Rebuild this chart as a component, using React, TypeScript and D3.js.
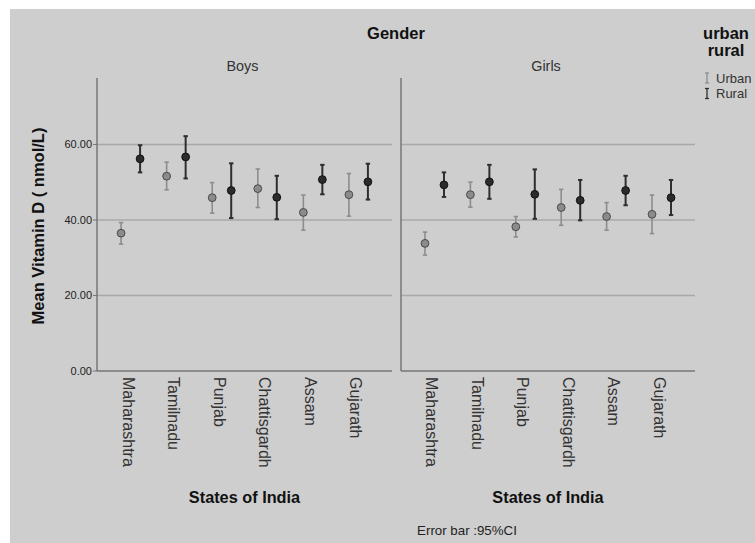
import React from "react";
import * as d3 from "d3";

// categories
const states = ["Maharashtra", "Tamilnadu", "Punjab", "Chattisgardh", "Assam", "Gujarath"];
const genders = ["Boys", "Girls"];
const yTicks = [0, 20, 40, 60];

// boys
const boysUrbanMean = [36.5, 51.6, 45.9, 48.3, 42.0, 46.7];
const boysUrbanLow = [33.6, 48.0, 41.8, 43.3, 37.3, 41.0];
const boysUrbanHigh = [39.3, 55.3, 49.9, 53.5, 46.6, 52.3];
const boysRuralMean = [56.2, 56.7, 47.8, 46.0, 50.7, 50.1];
const boysRuralLow = [52.6, 51.0, 40.5, 40.2, 46.8, 45.4];
const boysRuralHigh = [59.8, 62.2, 55.0, 51.7, 54.6, 54.9];

// girls
const girlsUrbanMean = [33.8, 46.7, 38.2, 43.3, 40.9, 41.5];
const girlsUrbanLow = [30.7, 43.4, 35.5, 38.6, 37.3, 36.4];
const girlsUrbanHigh = [36.8, 50.0, 40.9, 48.1, 44.6, 46.6];
const girlsRuralMean = [49.3, 50.1, 46.8, 45.2, 47.8, 45.9];
const girlsRuralLow = [46.1, 45.6, 40.3, 39.9, 43.9, 41.3];
const girlsRuralHigh = [52.6, 54.6, 53.4, 50.6, 51.7, 50.6];

const W = 755;
const H = 543;
const font = "'Liberation Sans', Arial, sans-serif";

const panels = [
  { x0: 97, x1: 392, urban: [boysUrbanMean, boysUrbanLow, boysUrbanHigh], rural: [boysRuralMean, boysRuralLow, boysRuralHigh] },
  { x0: 401, x1: 695, urban: [girlsUrbanMean, girlsUrbanLow, girlsUrbanHigh], rural: [girlsRuralMean, girlsRuralLow, girlsRuralHigh] },
];

const styles = {
  urban: { fill: "#8b8b8b", stroke: "#4a4a4a", bar: "#8d8d8d", bw: 1.6, off: -9.5 },
  rural: { fill: "#2b2b2b", stroke: "#111", bar: "#2e2e2e", bw: 2, off: 9.5 },
};

const y = d3.scaleLinear().domain([0, 77.6]).range([371, 78]);

function ErrorMarks({ x, vals, st }) {
  const [mean, lo, hi] = vals;
  return (
    <g>
      {states.map((s, i) => {
        const cx = x(s) + st.off;
        return (
          <g key={s}>
            <line x1={cx} x2={cx} y1={y(lo[i])} y2={y(hi[i])} stroke={st.bar} strokeWidth={st.bw} />
            <line x1={cx - 2.2} x2={cx + 2.2} y1={y(lo[i])} y2={y(lo[i])} stroke={st.bar} strokeWidth={st.bw} />
            <line x1={cx - 2.2} x2={cx + 2.2} y1={y(hi[i])} y2={y(hi[i])} stroke={st.bar} strokeWidth={st.bw} />
            <circle cx={cx} cy={y(mean[i])} r={3.9} fill={st.fill} stroke={st.stroke} strokeWidth={1} />
          </g>
        );
      })}
    </g>
  );
}

export default function App() {
  return (
    <div style={{ position: "absolute", left: 0, top: 0 }}>
      <svg width={W} height={H} style={{ display: "block" }}>
        <rect x={0} y={0} width={W} height={H} fill="#fff" />
        <rect x={10} y={9} width={W - 10} height={H - 9} fill="#cecece" />

        <text x={396} y={39} textAnchor="middle" fontFamily={font} fontWeight="bold" fontSize={16.5} fill="#111">Gender</text>

        {/* y axis title */}
        <text transform="translate(44,226) rotate(-90)" textAnchor="middle" fontFamily={font} fontWeight="bold" fontSize={16.5} fill="#111">
          Mean Vitamin D ( nmol/L)
        </text>

        {/* y tick labels */}
        {yTicks.map((t) => (
          <g key={t}>
            <text x={92} y={y(t)} dy="0.35em" textAnchor="end" fontFamily={font} fontSize={11} fill="#222">{t.toFixed(2)}</text>
            <line x1={93} x2={97} y1={y(t)} y2={y(t)} stroke="#777" strokeWidth={1} />
          </g>
        ))}

        {panels.map((p, pi) => {
          const x = d3.scalePoint().domain(states).range([p.x0, p.x1]).padding(0.737);
          const cxm = (p.x0 + p.x1) / 2;
          return (
            <g key={pi}>
              <text x={cxm - 2} y={71} textAnchor="middle" fontFamily={font} fontSize={14.4} fill="#333">{genders[pi]}</text>
              {yTicks.filter((t) => t > 0).map((t) => (
                <line key={t} x1={p.x0} x2={p.x1} y1={y(t)} y2={y(t)} stroke="#a8a8a8" strokeWidth={1.6} />
              ))}
              <line x1={p.x0} x2={p.x0} y1={78} y2={y(0)} stroke="#767676" strokeWidth={1.5} />
              <line x1={p.x0} x2={p.x1} y1={y(0)} y2={y(0)} stroke="#767676" strokeWidth={1.5} />
              <ErrorMarks x={x} vals={p.urban} st={styles.urban} />
              <ErrorMarks x={x} vals={p.rural} st={styles.rural} />
              {states.map((s) => (
                <text key={s} transform={`translate(${x(s)},377) rotate(90)`} dy="0.5em" fontFamily={font} fontSize={16} fill="#333">{s}</text>
              ))}
              <text x={cxm} y={503} textAnchor="middle" fontFamily={font} fontWeight="bold" fontSize={16.3} fill="#111">States of India</text>
            </g>
          );
        })}

        <text x={467} y={535} textAnchor="middle" fontFamily={font} fontSize={13.3} fill="#222">Error bar :95%CI</text>

        {/* legend */}
        <text x={726} y={39} textAnchor="middle" fontFamily={font} fontWeight="bold" fontSize={16.5} fill="#111">urban</text>
        <text x={726} y={56} textAnchor="middle" fontFamily={font} fontWeight="bold" fontSize={16.5} fill="#111">rural</text>
        {[["Urban", styles.urban, 78], ["Rural", styles.rural, 93.5]].map(([lab, st, cy]) => (
          <g key={lab}>
            <line x1={707} x2={707} y1={cy - 5} y2={cy + 5} stroke={st.bar} strokeWidth={1.3} />
            <line x1={705} x2={709} y1={cy - 5} y2={cy - 5} stroke={st.bar} strokeWidth={1.3} />
            <line x1={705} x2={709} y1={cy + 5} y2={cy + 5} stroke={st.bar} strokeWidth={1.3} />
            <text x={716} y={cy} dy="0.35em" fontFamily={font} fontSize={13} fill="#333">{lab}</text>
          </g>
        ))}
      </svg>
    </div>
  );
}
